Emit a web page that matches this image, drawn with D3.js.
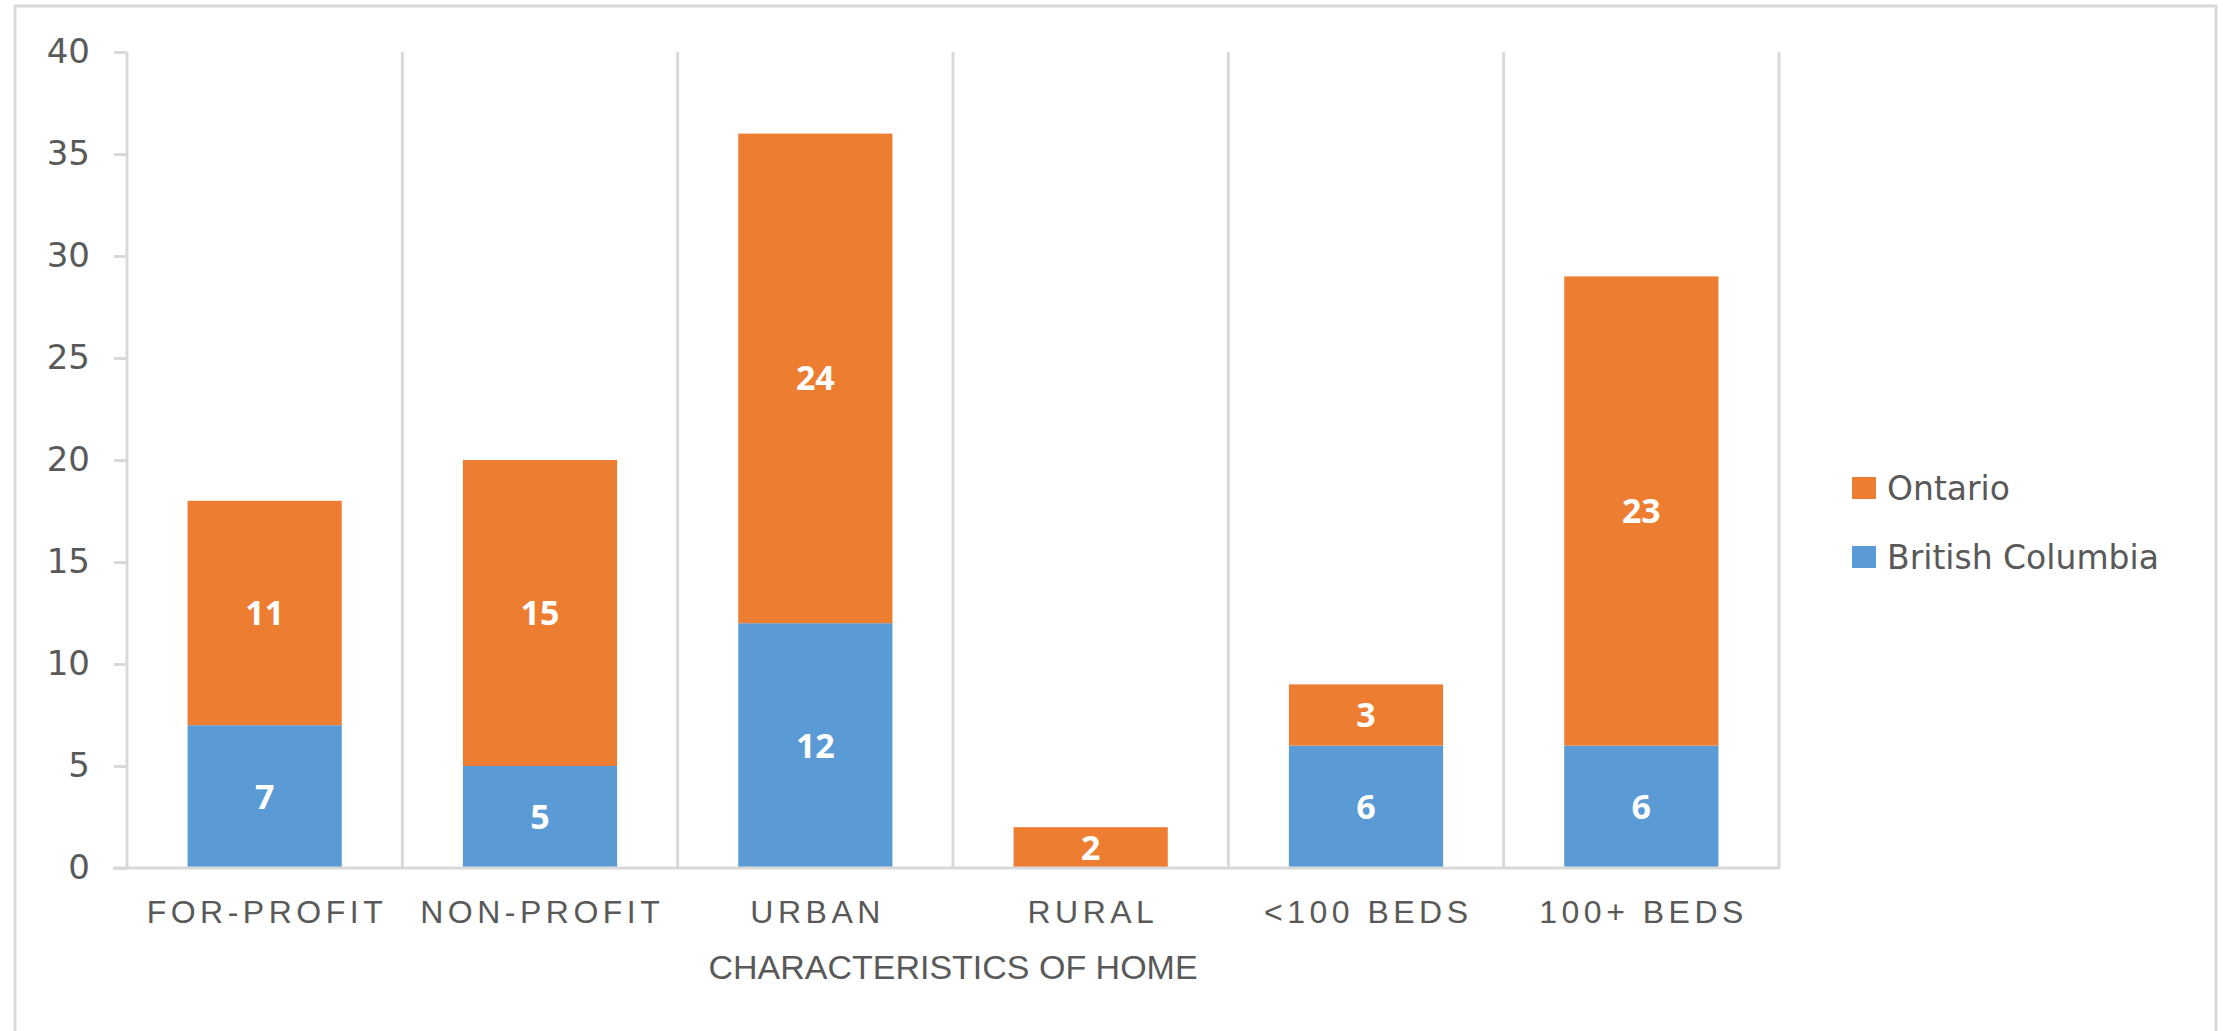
<!DOCTYPE html>
<html>
<head>
<meta charset="utf-8">
<script src="https://cdn.jsdelivr.net/npm/d3@7"></script>
<style>
  html, body { margin: 0; padding: 0; background: #fff; }
  svg { display: block; }
</style>
</head>
<body>
<svg id="chart" width="2223" height="1031"></svg>
<script>
// Long-term care homes by characteristic, stacked by province
const categories = ["FOR-PROFIT", "NON-PROFIT", "URBAN", "RURAL", "<100 BEDS", "100+ BEDS"];
const britishColumbia = [7, 5, 12, 0, 6, 6];
const ontario = [11, 15, 24, 2, 3, 23];
const seriesNames = ["British Columbia", "Ontario"];
const seriesColors = ["#5B9BD5", "#ED7D31"];
const yTicks = [0, 5, 10, 15, 20, 25, 30, 35, 40];
const xTitle = "CHARACTERISTICS OF HOME";

const svg = d3.select("#chart");
const gridColor = "#d9d9d9";
const textColor = "#595959";

// outer chart frame
svg.append("rect")
  .attr("x", 15).attr("y", 6)
  .attr("width", 2201).attr("height", 1060)
  .attr("fill", "#fff")
  .attr("stroke", gridColor).attr("stroke-width", 3);

const plot = { left: 127, right: 1779, top: 52, bottom: 868 };

const x = d3.scaleBand().domain(categories).range([plot.left, plot.right]).padding(0);
const y = d3.scaleLinear().domain([0, 40]).range([plot.bottom, plot.top]);

const rows = categories.map((c, i) => ({
  category: c,
  "British Columbia": britishColumbia[i],
  "Ontario": ontario[i]
}));
const stacked = d3.stack().keys(seriesNames)(rows);

// vertical separators between categories
const edges = categories.map(c => x(c)).concat([plot.right]);
svg.append("g").selectAll("line").data(edges).join("line")
  .attr("x1", d => d).attr("x2", d => d)
  .attr("y1", y(40)).attr("y2", y(0))
  .attr("stroke", gridColor).attr("stroke-width", 3);

// y axis: ticks and labels
const yAxis = d3.axisLeft(y).tickValues(yTicks).tickSize(13).tickPadding(24).tickFormat(d3.format("d"));
const gy = svg.append("g").attr("transform", `translate(${plot.left},0)`).call(yAxis);
gy.select(".domain").remove();
gy.selectAll(".tick line").attr("stroke", gridColor).attr("stroke-width", 3);
gy.selectAll(".tick text")
  .attr("fill", textColor)
  .style("font-family", "'DejaVu Sans', sans-serif")
  .style("font-size", "34px");

// stacked bars
const barW = x.bandwidth() * 0.56;
const layers = svg.append("g").selectAll("g").data(stacked).join("g")
  .attr("fill", (d, i) => seriesColors[i]);

layers.selectAll("rect")
  .data(d => d.filter(s => s[1] - s[0] > 0))
  .join("rect")
  .attr("x", d => x(d.data.category) + (x.bandwidth() - barW) / 2)
  .attr("width", barW)
  .attr("y", d => y(d[1]))
  .attr("height", d => y(d[0]) - y(d[1]));

// value labels inside segments
layers.selectAll("text")
  .data(d => d.filter(s => s[1] - s[0] > 0))
  .join("text")
  .attr("x", d => x(d.data.category) + x.bandwidth() / 2)
  .attr("y", d => y((d[0] + d[1]) / 2))
  .attr("dy", "0.35em")
  .attr("text-anchor", "middle")
  .attr("fill", "#fff")
  .style("font-family", "'Open Sans', sans-serif")
  .style("font-weight", "700")
  .style("font-size", "34px")
  .text(d => d[1] - d[0]);

// baseline
svg.append("line")
  .attr("x1", plot.left - 14).attr("x2", plot.right + 1)
  .attr("y1", y(0)).attr("y2", y(0))
  .attr("stroke", gridColor).attr("stroke-width", 3);

// category labels
const spacing = 4.5;
svg.append("g").selectAll("text").data(categories).join("text")
  .attr("x", d => x(d) + x.bandwidth() / 2 + spacing / 2)
  .attr("y", 923)
  .attr("text-anchor", "middle")
  .attr("fill", textColor)
  .style("font-family", "'Liberation Sans', Arial, sans-serif")
  .style("font-size", "32px")
  .style("letter-spacing", spacing + "px")
  .text(d => d);

// axis title
svg.append("text")
  .attr("x", (plot.left + plot.right) / 2)
  .attr("y", 979)
  .attr("text-anchor", "middle")
  .attr("fill", textColor)
  .style("font-family", "'Liberation Sans', Arial, sans-serif")
  .style("font-size", "34px")
  .text(xTitle);

// legend (Ontario listed first, matching the top-down stack order)
const legendItems = [
  { name: "Ontario", color: seriesColors[1] },
  { name: "British Columbia", color: seriesColors[0] }
];
const legend = svg.append("g").selectAll("g").data(legendItems).join("g")
  .attr("transform", (d, i) => `translate(1852, ${488 + i * 69})`);
legend.append("rect")
  .attr("x", 0).attr("y", -11)
  .attr("width", 24).attr("height", 22)
  .attr("fill", d => d.color);
legend.append("text")
  .attr("x", 35).attr("y", 0)
  .attr("dy", "0.36em")
  .attr("fill", textColor)
  .style("font-family", "'DejaVu Sans', sans-serif")
  .style("font-size", "33px")
  .text(d => d.name);
</script>
</body>
</html>
